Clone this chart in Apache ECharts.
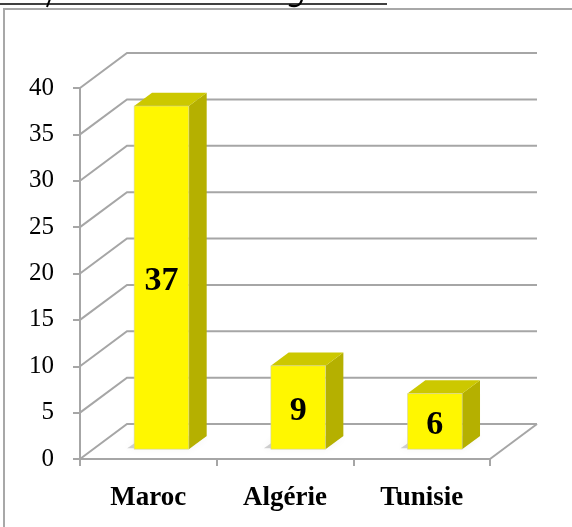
<!DOCTYPE html>
<html>
<head>
<meta charset="utf-8">
<script src="https://cdn.jsdelivr.net/npm/echarts@6/dist/echarts.min.js"></script>
<style>
  html, body { margin: 0; padding: 0; background: #ffffff; }
  #chart { width: 572px; height: 527px; }
</style>
</head>
<body>
<div id="chart"></div>
<script>
// Countries and their counts
const categories = ['Maroc', 'Algérie', 'Tunisie'];
const values = [37, 9, 6];
// Value-axis ticks (also the lines on the back wall)
const yTicks = [0, 5, 10, 15, 20, 25, 30, 35, 40];

// Perspective offset of the back wall relative to the front plane
const DX = 47, DY = -35;
// Bar placement inside the depth and band
const BAR_FRONT = 0.28, BAR_DEPTH = 0.38, BAR_WIDTH = 0.40;

const GRID_COLOR = '#A6A6A6';
const SERIF = '"Liberation Serif", "DejaVu Serif", serif';

function renderWall(params, api) {
  const cs = params.coordSys;
  const v = api.value(1);
  const y = api.coord([0, v])[1];
  const x0 = cs.x, x1 = cs.x + cs.width;
  const style = { stroke: GRID_COLOR, lineWidth: 2, fill: 'none' };
  const children = [{
    type: 'polyline',
    shape: { points: [[x0, y], [x0 + DX, y + DY], [x1 + DX, y + DY]] },
    style: style
  }];
  if (v === 0) {
    children.push({
      type: 'line',
      shape: { x1: x1, y1: y, x2: x1 + DX, y2: y + DY },
      style: style
    });
  }
  return { type: 'group', children: children };
}

function renderBar(params, api) {
  const idx = api.value(0), v = api.value(1);
  const base = api.coord([idx, 0]);
  const top = api.coord([idx, v]);
  const band = api.size([1, 0])[0];
  const w = band * BAR_WIDTH;
  const ox = DX * BAR_FRONT, oy = DY * BAR_FRONT;
  const dx = DX * BAR_DEPTH, dy = DY * BAR_DEPTH;
  const xl = base[0] + ox - w / 2, xr = xl + w;
  const yt = top[1] + oy, yb = base[1] + oy;
  return {
    type: 'group',
    children: [
      { // soft floor shadow
        type: 'polygon',
        shape: { points: [[xl - 7, yb - 1], [xr, yb - 1], [xr + dx, yb + dy], [xl + dx - 7, yb + dy]] },
        style: { fill: 'rgba(0,0,0,0.18)', shadowBlur: 8, shadowColor: 'rgba(0,0,0,0.35)' }
      },
      { // side face
        type: 'polygon',
        shape: { points: [[xr, yt], [xr + dx, yt + dy], [xr + dx, yb + dy], [xr, yb]] },
        style: { fill: '#B5B000' }
      },
      { // top face
        type: 'polygon',
        shape: { points: [[xl, yt], [xr, yt], [xr + dx, yt + dy], [xl + dx, yt + dy]] },
        style: { fill: '#CCC800' }
      },
      { // front face
        type: 'rect',
        shape: { x: xl, y: yt, width: w, height: yb - yt },
        style: { fill: '#FFF700', stroke: 'rgba(200,200,200,0.6)', lineWidth: 0.8 }
      },
      { // value label
        type: 'text',
        style: {
          x: xl + w / 2, y: (yt + yb) / 2 + 4,
          text: String(v),
          fill: '#000000',
          font: 'bold 34px ' + SERIF,
          align: 'center', verticalAlign: 'middle',
          textAlign: 'center', textVerticalAlign: 'middle'
        }
      }
    ]
  };
}

const chart = echarts.init(document.getElementById('chart'), null, { renderer: 'canvas' });
chart.setOption({
  backgroundColor: '#ffffff',
  animation: false,
  graphic: [
    { // chart area frame
      type: 'rect', z: 0,
      shape: { x: 4, y: 9, width: 620, height: 600 },
      style: { fill: 'none', stroke: '#A8A8A8', lineWidth: 2 }
    },
    { // underline of the heading above
      type: 'line', z: 0,
      shape: { x1: 0, y1: 4, x2: 387, y2: 4 },
      style: { stroke: '#000000', lineWidth: 1.5 }
    },
    {
      type: 'line', z: 0,
      shape: { x1: 50, y1: -1, x2: 47, y2: 7 },
      style: { stroke: '#000000', lineWidth: 2 }
    },
    {
      type: 'bezierCurve', z: 0,
      shape: { x1: 302, y1: -1, cpx1: 301, cpy1: 5, cpx2: 296, cpy2: 8, x2: 289, y2: 5 },
      style: { stroke: '#000000', lineWidth: 2.2, fill: 'none' }
    }
  ],
  grid: { left: 80, right: 82, top: 88, bottom: 68, containLabel: false },
  xAxis: {
    type: 'category',
    data: categories,
    boundaryGap: true,
    axisLine: { show: true, lineStyle: { color: GRID_COLOR, width: 2 } },
    axisTick: { show: true, length: 7, lineStyle: { color: GRID_COLOR, width: 2 } },
    axisLabel: {
      margin: 26,
      color: '#000000',
      fontFamily: SERIF,
      fontWeight: 'bold',
      fontSize: 27
    },
    splitLine: { show: false }
  },
  yAxis: {
    type: 'value',
    min: 0, max: 40, interval: 5,
    axisLine: { show: true, lineStyle: { color: GRID_COLOR, width: 2 } },
    axisTick: { show: true, length: 7, lineStyle: { color: GRID_COLOR, width: 2 } },
    axisLabel: {
      margin: 26,
      color: '#000000',
      fontFamily: SERIF,
      fontSize: 25,
      padding: [5, 0, 0, 0]
    },
    splitLine: { show: false }
  },
  series: [
    {
      type: 'custom',
      name: 'wall',
      z: 1,
      silent: true,
      renderItem: renderWall,
      encode: { x: 0, y: 1 },
      data: yTicks.map(function (t) { return [0, t]; })
    },
    {
      type: 'custom',
      name: 'bars',
      z: 3,
      renderItem: renderBar,
      encode: { x: 0, y: 1 },
      data: values.map(function (v, i) { return [i, v]; })
    }
  ]
});
</script>
</body>
</html>
